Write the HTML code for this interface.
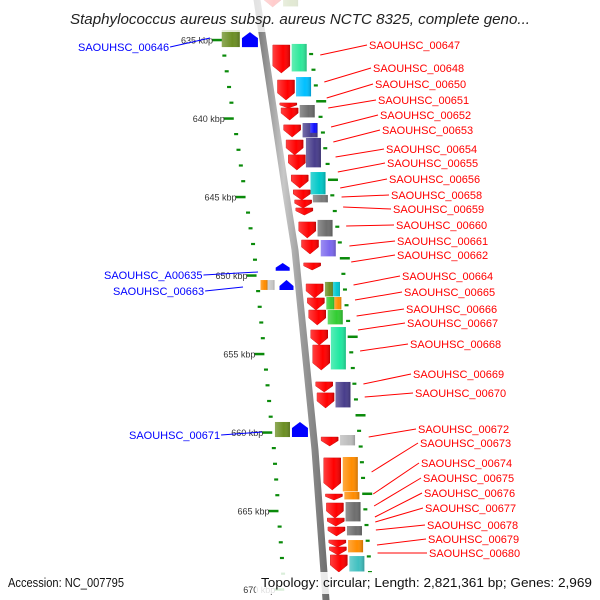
<!DOCTYPE html>
<html><head><meta charset="utf-8"><style>
html,body{margin:0;padding:0;background:#fff}
svg{display:block}
</style></head><body>
<svg id="map" width="600" height="600" viewBox="0 0 600 600" xmlns="http://www.w3.org/2000/svg" font-family="Liberation Sans, sans-serif">
<defs>
<linearGradient id="bbg" x1="0" x2="1"><stop offset="0" stop-color="#6a6a6a"/><stop offset="0.4" stop-color="#c8c8c8"/><stop offset="0.6" stop-color="#a0a0a0"/><stop offset="1" stop-color="#6a6a6a"/></linearGradient>
<linearGradient id="shade" x1="0" x2="1"><stop offset="0" stop-color="#fff" stop-opacity="0.25"/><stop offset="0.6" stop-color="#fff" stop-opacity="0"/><stop offset="1" stop-color="#000" stop-opacity="0.2"/></linearGradient>
</defs>
<g id="backbone-layer"></g>
<g id="dots-layer"></g>
<g id="gene-layer"></g>
<g id="label-layer"></g>
</svg>
<script>
// ---- data ----
const kbpTicks = [635, 640, 645, 650, 655, 660, 665, 670];
const leftDotKbp = [635,636,637,638,639,640,641,642,643,644,645,646,647,648,649,650,651,652,653,654,655,656,657,658,659,660,661,662,663,664,665,666,667,668,669,670];
const rightDotKbp = [635.9,636.9,637.9,638.9,639.9,640.9,641.9,642.9,643.9,644.9,645.9,646.9,647.9,648.9,649.9,650.9,651.9,652.9,653.9,654.9,655.9,656.9,657.9,658.9,659.9,660.9,661.9,662.9,663.9,664.9,665.9,666.9,667.9,668.9];
const rightLongKbp = [638.9, 643.9, 648.9, 653.9, 658.9, 663.9];
const redStart = [632.1,635.32,637.55,639.01,639.33,640.41,641.37,642.32,643.60,644.55,645.19,645.70,646.59,647.74,649.20,650.54,651.43,652.20,653.47,654.43,656.78,657.48,660.29,661.62,663.92,664.49,665.45,666.02,666.85,667.29,667.80];
const redEnd   = [632.9,637.10,638.82,639.33,640.10,641.18,642.32,643.28,644.43,645.19,645.70,646.15,647.61,648.63,649.65,651.43,652.20,653.15,654.43,656.02,657.42,658.44,660.86,663.66,664.30,665.45,665.96,666.59,667.29,667.80,668.89];
const boxStart = [632.1,635.25,637.36,639.14,640.29,640.29,641.24,643.41,644.87,646.46,647.74,650.41,650.41,651.37,651.37,652.20,653.28,656.78,660.16,661.56,663.79,664.43,665.96,666.85,667.87];
const boxEnd   = [632.9,637.04,638.63,639.97,641.24,640.95,643.15,644.87,645.38,647.55,648.82,651.37,651.37,652.20,652.20,653.15,656.02,658.44,660.86,663.79,664.30,665.70,666.59,667.67,668.89];
const boxColor = ["#6b8e23","#2ee89a","#00bfff","#6e6e6e","#483d8b","#1010ff","#483d8b","#00c8c8","#7a7a7a","#6e6e6e","#7b68ee","#6b8e23","#00c8d0","#32cd32","#ff8c00","#32cd32","#20e8a0","#483d8b","#bdbdbd","#ff8c00","#ff8c00","#6e6e6e","#6e6e6e","#ff8c00","#40c0c0"];
const boxLane  = ["f","f","f","f","f","r","f","f","f","f","f","l","r","l","r","f","f","f","f","f","f","f","f","f","f"];
const leftStart = [634.36,634.50,649.20,650.29,650.29,650.29,659.33,659.33];
const leftEnd   = [635.45,635.45,649.70,650.92,650.92,650.92,660.29,660.29];
const leftColor = ["#6b8e23","#0000ff","#0000ff","#ff8c00","#c8c8c8","#0000ff","#6b8e23","#0000ff"];
const leftKind  = ["box","arrow","arrow","boxa","boxb","arrow","box","arrow"];
const leftLane  = [0,1,2,3,4,2,5,1];
const rightLabels = ["SAOUHSC_00647","SAOUHSC_00648","SAOUHSC_00650","SAOUHSC_00651","SAOUHSC_00652","SAOUHSC_00653","SAOUHSC_00654","SAOUHSC_00655","SAOUHSC_00656","SAOUHSC_00658","SAOUHSC_00659","SAOUHSC_00660","SAOUHSC_00661","SAOUHSC_00662","SAOUHSC_00664","SAOUHSC_00665","SAOUHSC_00666","SAOUHSC_00667","SAOUHSC_00668","SAOUHSC_00669","SAOUHSC_00670","SAOUHSC_00672","SAOUHSC_00673","SAOUHSC_00674","SAOUHSC_00675","SAOUHSC_00676","SAOUHSC_00677","SAOUHSC_00678","SAOUHSC_00679","SAOUHSC_00680"];
const rightLabelY = [45,68,84,100,115,130,149,163,179,195,209,225,241,255,276,292,309,323,344,374,393,429,443,463,478,493,508,525,539,553];
const rightLabelX = [369,373,375,378,380,382,386,387,389,391,393,396,397,397,402,404,406,407,410,413,415,418,420,421,423,424,425,427,428,429];
const rightTargetY = [55,82,98,108,127,142,157,172,188,197,207,226,246,262,285,300,316,330,351,384,397,437,472,494,506,517,522,530,545,553];
const leftLabels = ["SAOUHSC_00646","SAOUHSC_A00635","SAOUHSC_00663","SAOUHSC_00671"];
const leftLabelY = [47,275,291,435];
const leftLabelX = [78,104,113,129];
const leftTargetX = [210,258,243,262];
const leftTargetY = [38,272,287,432];

// ---- layout ----
const NS="http://www.w3.org/2000/svg";
const curveY=[0,200,250,450,600], curveX=[257,287,295,315,326];
function bx(y){ for(let i=0;i<curveY.length-1;i++){ if(y<=curveY[i+1]||i==curveY.length-2){const t=(y-curveY[i])/(curveY[i+1]-curveY[i]);return curveX[i]+t*(curveX[i+1]-curveX[i]);}} }
function ky(k){ return 40+(k-635)*15.7; }
function mk(tag,attrs,parent){const e=document.createElementNS(NS,tag);for(const a in attrs)e.setAttribute(a,attrs[a]);parent.appendChild(e);return e;}
const bbLayer=document.getElementById('backbone-layer'), dotLayer=document.getElementById('dots-layer'), geneLayer=document.getElementById('gene-layer'), labLayer=document.getElementById('label-layer');

let pts=[];for(let y=-5;y<=605;y+=5)pts.push((bx(y)-3.5)+","+y);
for(let y=605;y>=-5;y-=5)pts.push((bx(y)+3.5)+","+y);
const bbp=mk('polygon',{points:pts.join(' '),fill:'url(#bbg)'},bbLayer);



leftDotKbp.forEach(k=>{const y=ky(k);const long=kbpTicks.includes(k);
 const r=mk('rect',{x:bx(y)-43-(long?8:0),y:y-1.2,width:long?10:4,height:long?2.5:2.2,fill:'#0a8a0a'},dotLayer);
 
 });
rightDotKbp.forEach(k=>{const y=ky(k);const long=rightLongKbp.includes(k);
 const r=mk('rect',{x:bx(y)+44,y:y-1.2,width:long?10:4,height:long?2.5:2.2,fill:'#0a8a0a'},dotLayer);
 
 });
kbpTicks.forEach(k=>{const y=ky(k);
 const t=mk('text',{x:bx(y)-50,y:y+3.5,'font-size':9,fill:'#333','text-anchor':'end'},dotLayer);t.textContent=k+" kbp";
 
 });

redStart.forEach((s,i)=>{const y1=ky(s),y2=ky(redEnd[i]);const h=y2-y1;const x0=bx((y1+y2)/2)+7,x1=x0+17;
 const head=Math.min(7,h*0.6);
 const ptsR=`${x0},${y1} ${x1},${y1} ${x1},${y2-head} ${(x0+x1)/2},${y2} ${x0},${y2-head}`;
 const p=mk('polygon',{points:ptsR,fill:'#ff0000',stroke:'#d00000','stroke-width':0.5},geneLayer);
 
 
 mk('polygon',{points:ptsR,fill:'url(#shade)'},geneLayer);});
boxStart.forEach((s,i)=>{const y1=ky(s),y2=ky(boxEnd[i]);let x0=bx((y1+y2)/2)+26,w=15;
 if(boxLane[i]=='l')w=8; if(boxLane[i]=='r'){x0+=8;w=7;}
 const r=mk('rect',{x:x0,y:y1,width:w,height:Math.max(1,y2-y1-0.6),fill:boxColor[i]},geneLayer);
 
 
 mk('rect',{x:x0,y:y1,width:w,height:Math.max(1,y2-y1-0.6),fill:'url(#shade)'},geneLayer);});
const laneFix=[[-41,-23],[-21,-5],[-21,-7],[-38,-31],[-31,-24],[-38,-23]];
leftStart.forEach((s,i)=>{const y1=ky(s),y2=ky(leftEnd[i]);const c=bx((y1+y2)/2);
 let lo=laneFix[leftLane[i]]; if(leftKind[i]=='arrow'&&i==5)lo=[-19,-5];
 const x0=c+lo[0],x1=c+lo[1];let el;
 if(leftKind[i]=='arrow'){const head=Math.min(6,(y2-y1)*0.6);
  el=mk('polygon',{points:`${x0},${y2} ${x1},${y2} ${x1},${y1+head} ${(x0+x1)/2},${y1} ${x0},${y1+head}`,fill:leftColor[i]},geneLayer);}
 else {el=mk('rect',{x:x0,y:y1,width:x1-x0,height:y2-y1,fill:leftColor[i]},geneLayer);
  mk('rect',{x:x0,y:y1,width:x1-x0,height:y2-y1,fill:'url(#shade)'},geneLayer);}
 
 });

rightLabels.forEach((t,i)=>{const ty=rightTargetY[i];
 const l=mk('line',{x1:bx(ty)+55,y1:ty,x2:rightLabelX[i]-2,y2:rightLabelY[i],stroke:'#ff0000','stroke-width':1},labLayer);
 
 
 const tx=mk('text',{x:rightLabelX[i],y:rightLabelY[i]+4,'font-size':11,fill:'#ff0000'},labLayer);tx.textContent=t;
 
 });
leftLabels.forEach((t,i)=>{
 const tx=mk('text',{x:leftLabelX[i],y:leftLabelY[i]+4,'font-size':11,fill:'#0000ff'},labLayer);tx.textContent=t;
 
 
 let w=t.length*6.3; try{w=tx.getComputedTextLength()||w;}catch(e){}
 const l=mk('line',{x1:leftLabelX[i]+w+1,y1:leftLabelY[i],x2:leftTargetX[i],y2:leftTargetY[i],stroke:'#0000ff','stroke-width':1},labLayer);
 
 });

const tb=mk('rect',{x:0,y:0,width:600,height:32,fill:'#fff',opacity:0.8},labLayer);


const titleText=mk('text',{x:300,y:24,'font-size':15,'font-style':'italic',fill:'#222','text-anchor':'middle',textLength:460,lengthAdjust:'spacingAndGlyphs'},labLayer);
titleText.textContent="Staphylococcus aureus subsp. aureus NCTC 8325, complete geno...";


const fb=mk('rect',{x:256,y:572,width:344,height:22,fill:'#fff',opacity:0.85},labLayer);


const accText=mk('text',{x:8,y:587,'font-size':13,fill:'#111',textLength:116,lengthAdjust:'spacingAndGlyphs'},labLayer);
accText.textContent="Accession: NC_007795";


const topoText=mk('text',{x:261,y:587,'font-size':13,fill:'#111',textLength:331,lengthAdjust:'spacingAndGlyphs'},labLayer);
topoText.textContent="Topology: circular; Length: 2,821,361 bp; Genes: 2,969";


</script>
</body></html>
